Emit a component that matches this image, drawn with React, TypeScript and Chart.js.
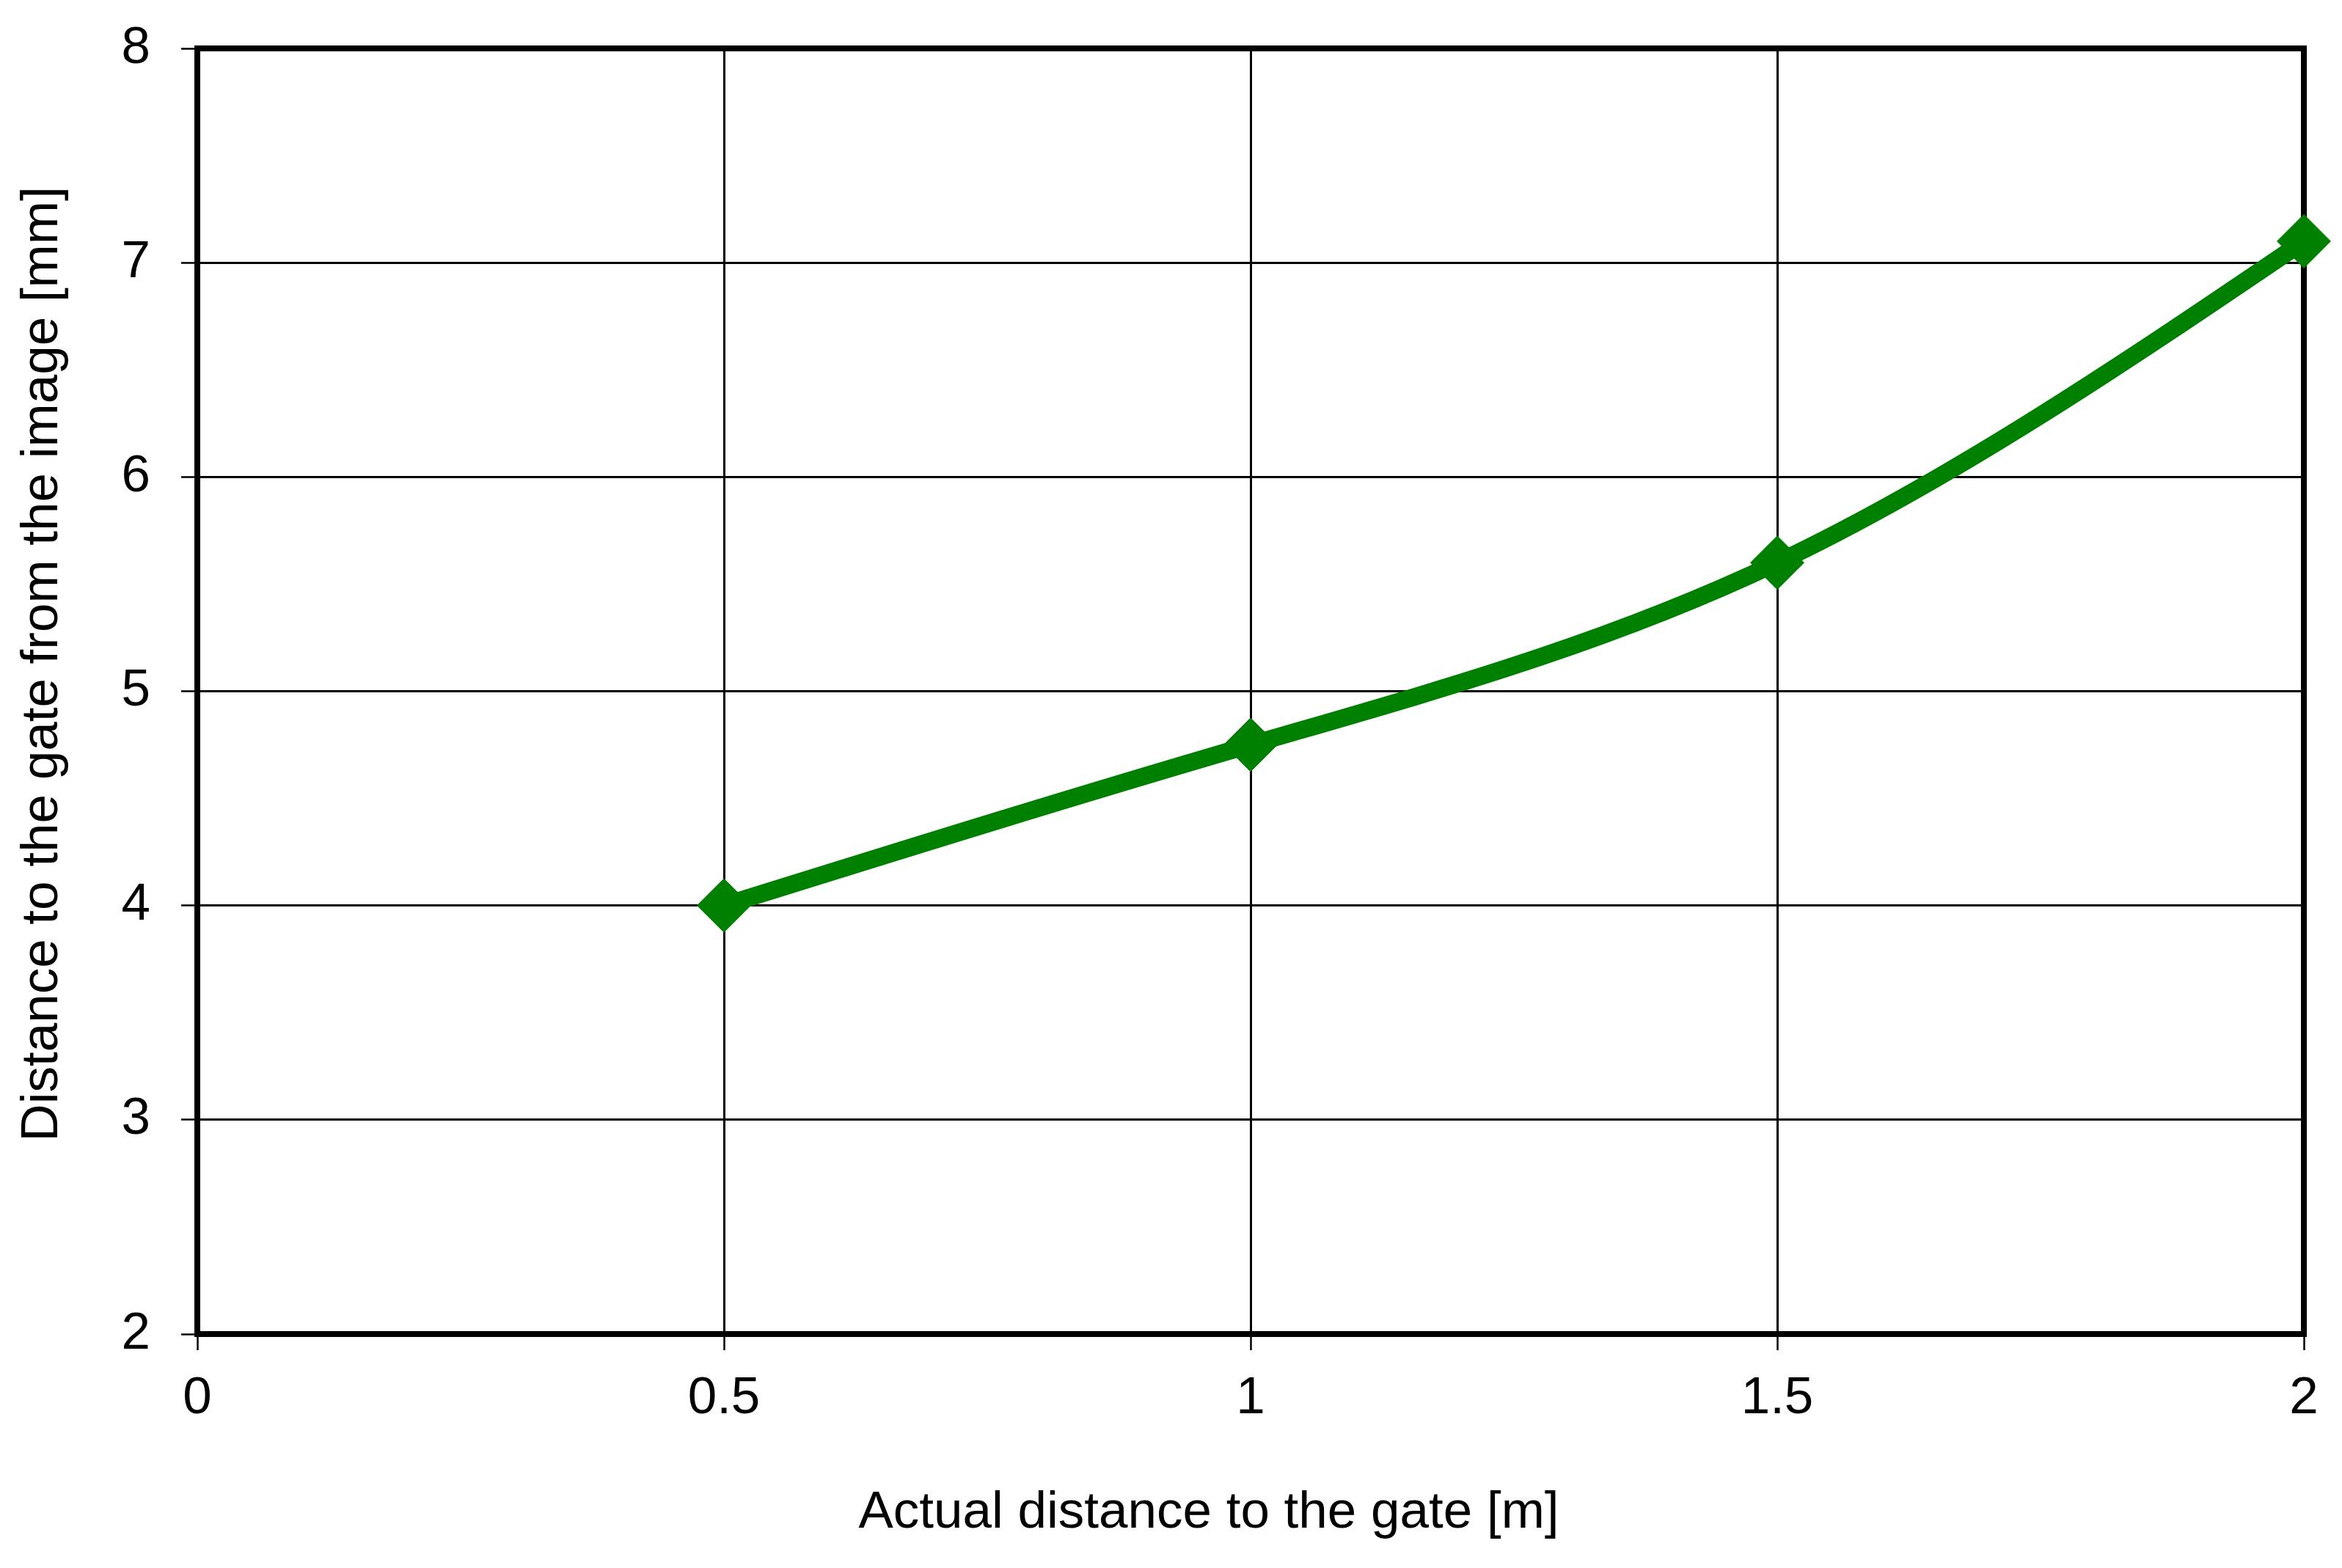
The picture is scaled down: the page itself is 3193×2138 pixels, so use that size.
import React, { useEffect, useRef } from "react";
import { Chart, registerables } from "chart.js";

Chart.register(...registerables);

const xValues = [0.5, 1, 1.5, 2];
const yValues = [4.0, 4.75, 5.6, 7.1];
const xTitle = "Actual distance to the gate [m]";
const yTitle = "Distance to the gate from the image [mm]";

const FONT = "'Liberation Sans', Arial, sans-serif";
const FONT_SIZE = 71;
const GREEN = "#008000";

// natural cubic spline slopes (in data units) for the smoothed line
function splineSlopes(xs: number[], ys: number[]): number[] {
  const n = xs.length;
  const h: number[] = [];
  for (let i = 0; i < n - 1; i++) h.push(xs[i + 1] - xs[i]);
  const M = new Array(n).fill(0);
  if (n > 2) {
    const a: number[] = [], b: number[] = [], c: number[] = [], d: number[] = [];
    for (let i = 1; i < n - 1; i++) {
      a.push(h[i - 1]);
      b.push(2 * (h[i - 1] + h[i]));
      c.push(h[i]);
      d.push(6 * ((ys[i + 1] - ys[i]) / h[i] - (ys[i] - ys[i - 1]) / h[i - 1]));
    }
    const m = b.length;
    for (let i = 1; i < m; i++) {
      const w = a[i] / b[i - 1];
      b[i] -= w * c[i - 1];
      d[i] -= w * d[i - 1];
    }
    const sol = new Array(m).fill(0);
    sol[m - 1] = d[m - 1] / b[m - 1];
    for (let i = m - 2; i >= 0; i--) sol[i] = (d[i] - c[i] * sol[i + 1]) / b[i];
    for (let i = 0; i < m; i++) M[i + 1] = sol[i];
  }
  const slopes: number[] = [];
  for (let i = 0; i < n; i++) {
    if (i < n - 1) {
      slopes.push((ys[i + 1] - ys[i]) / h[i] - (h[i] * (2 * M[i] + M[i + 1])) / 6);
    } else {
      slopes.push((ys[i] - ys[i - 1]) / h[i - 1] + (h[i - 1] * (M[i - 1] + 2 * M[i])) / 6);
    }
  }
  return slopes;
}

const smoothPlugin = {
  id: "naturalSmooth",
  beforeDatasetsDraw(chart: any) {
    const meta = chart.getDatasetMeta(0);
    const line = meta.dataset;
    if (!line) return;
    line.updateControlPoints(chart.chartArea, "x");
    const xs = chart.scales.x;
    const ys = chart.scales.y;
    const slopes = splineSlopes(xValues, yValues);
    const pts = meta.data;
    for (let i = 0; i < pts.length; i++) {
      const p = pts[i];
      const x = xValues[i];
      const y = yValues[i];
      if (i > 0) {
        const hh = (x - xValues[i - 1]) / 3;
        p.cp1x = xs.getPixelForValue(x - hh);
        p.cp1y = ys.getPixelForValue(y - slopes[i] * hh);
      } else {
        p.cp1x = p.x;
        p.cp1y = p.y;
      }
      if (i < pts.length - 1) {
        const hh = (xValues[i + 1] - x) / 3;
        p.cp2x = xs.getPixelForValue(x + hh);
        p.cp2y = ys.getPixelForValue(y + slopes[i] * hh);
      } else {
        p.cp2x = p.x;
        p.cp2y = p.y;
      }
    }
  },
};

const framePlugin = {
  id: "frameAndTitles",
  beforeDatasetsDraw(chart: any) {
    const { ctx, chartArea } = chart;
    ctx.save();
    ctx.strokeStyle = "#000";
    ctx.lineWidth = 8;
    ctx.strokeRect(
      chartArea.left,
      chartArea.top,
      chartArea.right - chartArea.left,
      chartArea.bottom - chartArea.top
    );
    ctx.restore();
  },
  afterDraw(chart: any) {
    const { ctx, chartArea } = chart;
    ctx.save();
    ctx.fillStyle = "#000";
    ctx.font = `${FONT_SIZE}px ${FONT}`;
    ctx.textAlign = "center";
    ctx.textBaseline = "alphabetic";
    const cx = (chartArea.left + chartArea.right) / 2 - 57;
    ctx.fillText(xTitle, cx, chartArea.bottom + 264);
    const cy = (chartArea.top + chartArea.bottom) / 2 - 37;
    ctx.translate(chartArea.left - 191, cy);
    ctx.rotate(-Math.PI / 2);
    ctx.fillText(yTitle, 0, 0);
    ctx.restore();
  },
};

export default function App() {
  const ref = useRef<HTMLCanvasElement | null>(null);

  useEffect(() => {
    document.body.style.margin = "0";
    if (!ref.current) return;
    Chart.defaults.font.family = FONT;
    Chart.defaults.font.size = FONT_SIZE;
    Chart.defaults.color = "#000";
    const chart = new Chart(ref.current, {
      type: "line",
      data: {
        datasets: [
          {
            data: xValues.map((x, i) => ({ x, y: yValues[i] })),
            borderColor: GREEN,
            backgroundColor: GREEN,
            borderWidth: 24,
            tension: 0.4,
            capBezierPoints: false,
            pointStyle: "rectRot",
            pointRadius: 36.5,
            pointBorderWidth: 1,
            pointBackgroundColor: GREEN,
            pointBorderColor: GREEN,
            clip: false as any,
            fill: false,
          },
        ],
      },
      plugins: [framePlugin, smoothPlugin],
      options: {
        responsive: false,
        animation: false,
        devicePixelRatio: 1,
        layout: { padding: { left: 0, top: 66, right: 52, bottom: 0 } },
        plugins: {
          legend: { display: false },
          tooltip: { enabled: false },
          title: { display: false },
        },
        scales: {
          x: {
            type: "linear",
            min: 0,
            max: 2,
            afterFit: (s: any) => {
              s.height = 319;
              s.paddingLeft = 0;
              s.paddingRight = 0;
            },
            ticks: {
              stepSize: 0.5,
              padding: 24,
              font: { size: FONT_SIZE, family: FONT },
              color: "#000",
              maxRotation: 0,
              autoSkip: false,
              callback: (v: any) => String(v),
            },
            grid: {
              color: "#000",
              lineWidth: 3,
              tickLength: 22,
              tickWidth: 2.5,
              tickColor: "#000",
            },
            border: { display: false },
          },
          y: {
            type: "linear",
            min: 2,
            max: 8,
            afterFit: (s: any) => {
              s.width = 269;
              s.paddingTop = 0;
              s.paddingBottom = 0;
            },
            ticks: {
              stepSize: 1,
              padding: 42,
              font: { size: FONT_SIZE, family: FONT },
              color: "#000",
              autoSkip: false,
            },
            grid: {
              color: "#000",
              lineWidth: 3,
              tickLength: 22,
              tickWidth: 2.5,
              tickColor: "#000",
            },
            border: { display: false },
          },
        },
      },
    });
    return () => chart.destroy();
  }, []);

  return (
    <div style={{ position: "absolute", left: 0, top: 0, width: 3193, height: 2138, background: "#fff" }}>
      <canvas ref={ref} width={3193} height={2138} style={{ display: "block" }} />
    </div>
  );
}
